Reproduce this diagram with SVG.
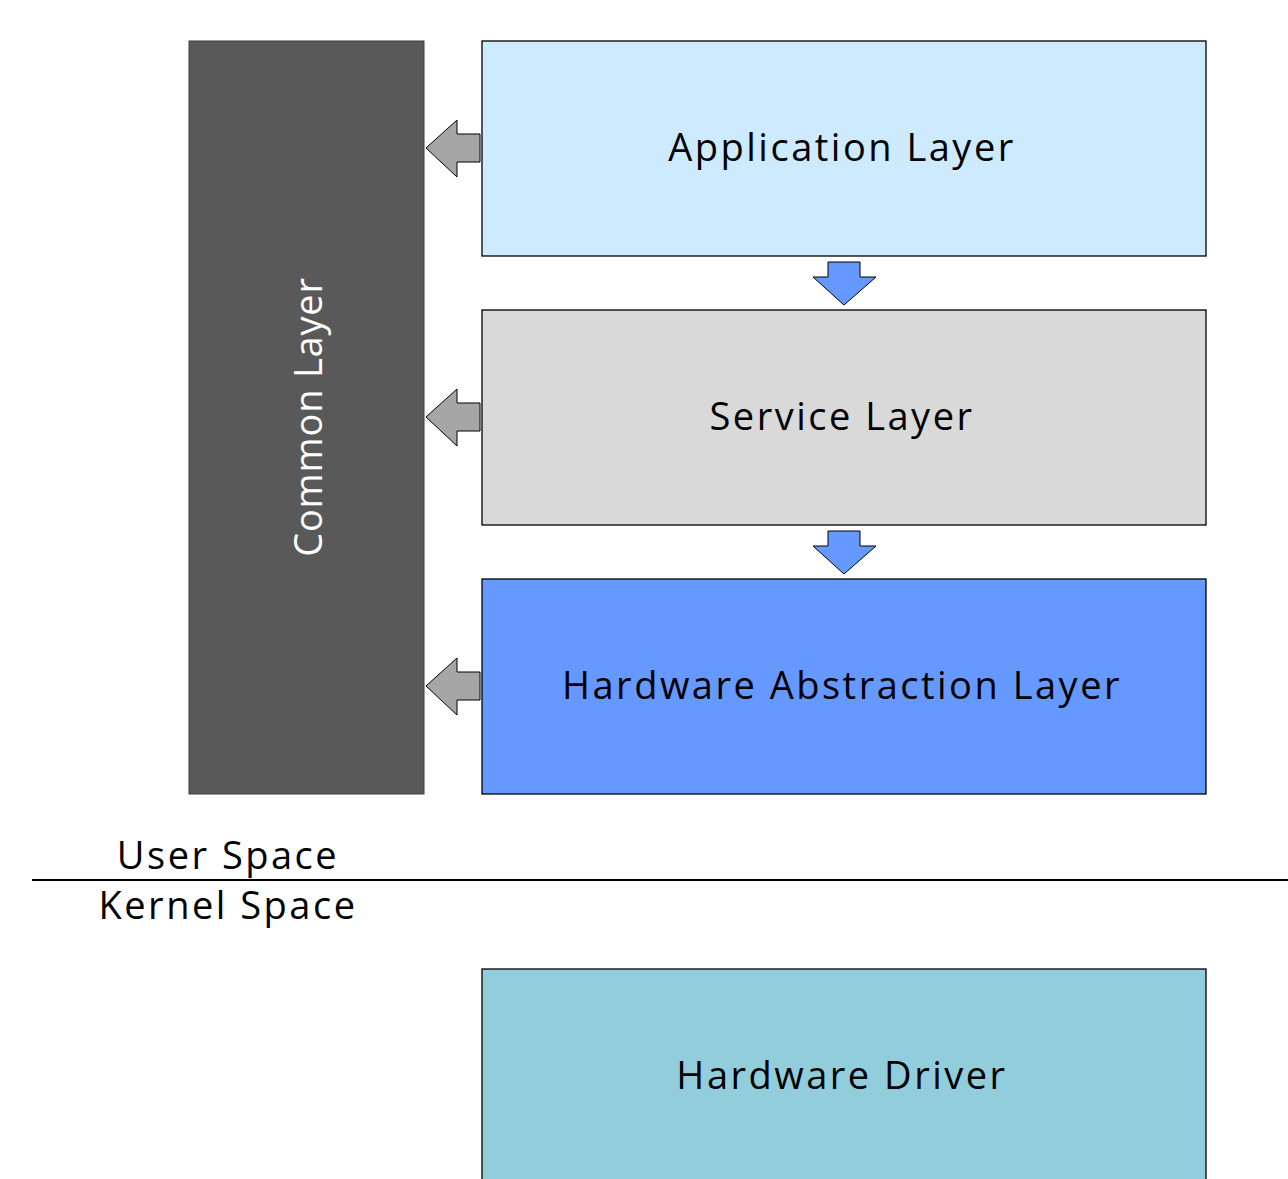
<svg xmlns="http://www.w3.org/2000/svg" width="1288" height="1179" viewBox="0 0 1288 1179">
<style>
.box{stroke:#000;stroke-width:1.3}
.t{font-family:"Open Sans","Liberation Sans",sans-serif;font-size:38px;letter-spacing:2.5px;fill:#000;text-anchor:middle}
.la{fill:#a6a6a6;stroke:#000;stroke-width:1}
.da{fill:#6699ff;stroke:#000;stroke-width:1}
</style>
<rect width="1288" height="1179" fill="#fff"/>
<g id="common">
<rect x="189" y="41" width="235" height="753" fill="#595959" stroke="#3f3f3f" stroke-width="1"/>
<text class="t" transform="translate(322,417) rotate(-90)" style="fill:#fff;letter-spacing:0.8px">Common Layer</text>
</g>
<g id="app">
<rect class="box" x="482" y="41" width="724" height="215" fill="#cdeafe"/>
<text class="t" x="842" y="161">Application Layer</text>
</g>
<g id="service">
<rect class="box" x="482" y="310" width="724" height="215" fill="#d9d9d9"/>
<text class="t" x="842" y="430">Service Layer</text>
</g>
<g id="hal">
<rect class="box" x="482" y="579" width="724" height="215" fill="#6699ff"/>
<text class="t" x="842" y="699">Hardware Abstraction Layer</text>
</g>
<g id="driver">
<rect class="box" x="482" y="969" width="724" height="215" fill="#92cddc"/>
<text class="t" x="842" y="1089">Hardware Driver</text>
</g>
<g id="divider">
<line x1="32" y1="880" x2="1288" y2="880" stroke="#000" stroke-width="2"/>
<text class="t" x="228" y="869">User Space</text>
<text class="t" x="228" y="919">Kernel Space</text>
</g>
<g id="connectors">
<polygon class="la" points="480,134 457,134 457,120 426,148 457,177 457,162 480,162"/>
<polygon class="la" points="480,403 457,403 457,389 426,417 457,446 457,431 480,431"/>
<polygon class="la" points="480,672 457,672 457,658 426,686 457,715 457,700 480,700"/>
<polygon class="da" points="828,262 860,262 860,277 876,277 844,305 813,277 828,277"/>
<polygon class="da" points="828,531 860,531 860,546 876,546 844,574 813,546 828,546"/>
</g>
</svg>
